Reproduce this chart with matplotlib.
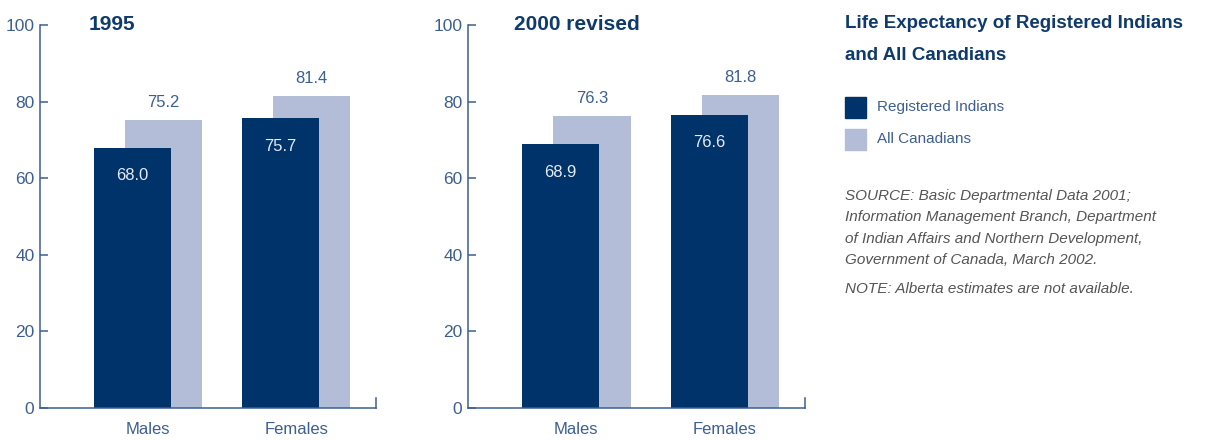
import numpy as np
import matplotlib.pyplot as plt

groups = ['Males', 'Females']
panel_titles = ['1995', '2000 revised']
registered = [[68.0, 75.7], [68.9, 76.6]]
all_canadians = [[75.2, 81.4], [76.3, 81.8]]
yticks = [0, 20, 40, 60, 80, 100]

DARK = '#00336a'
LIGHT = '#b4bdd7'
AXIS = '#3d5f8f'
TITLE = '#0f3a6c'

plt.rcParams['font.family'] = ['Liberation Sans', 'DejaVu Sans']

W, H = 1215, 440
fig = plt.figure(figsize=(W / 100, H / 100), dpi=100)

panels = [(40, 376), (468, 805)]
x = np.arange(len(groups))
off = 0.105
width = 0.52

for i, (x0, x1) in enumerate(panels):
    ax = fig.add_axes([x0 / W, (H - 408) / H, (x1 - x0) / W, (408 - 25) / H])
    ax.bar(x + off, all_canadians[i], width, color=LIGHT, zorder=1)
    ax.bar(x - off, registered[i], width, color=DARK, zorder=2)
    for xi, v in zip(x, all_canadians[i]):
        ax.text(xi + off, v + 4.6, f'{v:.1f}', ha='center', va='center',
                color=AXIS, fontsize=12, zorder=3)
    for xi, v in zip(x, registered[i]):
        ax.text(xi - off, v - 7.3, f'{v:.1f}', ha='center', va='center',
                color='#e6ebf3', fontsize=12, zorder=3)
    ax.set_xlim(-0.73, 1.54)
    ax.set_ylim(0, 100)
    ax.set_yticks(yticks)
    ax.set_xticks(x)
    ax.set_xticklabels(groups)
    ax.tick_params(axis='x', length=0, pad=10, labelsize=12, colors=AXIS)
    ax.tick_params(axis='y', direction='in', length=6, width=1.1, pad=4,
                   labelsize=12.5, colors=AXIS)
    ax.spines['top'].set_visible(False)
    ax.spines['right'].set_bounds(0, 2.6)
    for s in ['left', 'bottom', 'right']:
        ax.spines[s].set_color(AXIS)
        ax.spines[s].set_linewidth(1.1)
    ax.text(0.145 if i == 0 else 0.137, 1.0, panel_titles[i], transform=ax.transAxes,
            ha='left', va='center', fontsize=15, fontweight='bold', color=TITLE)

fig.text(845 / W, 1 - 24 / H, 'Life Expectancy of Registered Indians',
         fontsize=13.5, fontweight='bold', color=TITLE, va='center', ha='left')
fig.text(845 / W, 1 - 55 / H, 'and All Canadians',
         fontsize=13.5, fontweight='bold', color=TITLE, va='center', ha='left')

for y, col, lab in [(107, DARK, 'Registered Indians'), (139, LIGHT, 'All Canadians')]:
    fig.patches.append(plt.Rectangle((845 / W, 1 - (y + 10.5) / H), 21 / W, 21 / H,
                                     transform=fig.transFigure, color=col))
    fig.text(877 / W, 1 - y / H, lab, fontsize=11, color=AXIS, va='center', ha='left')

source = ['SOURCE: Basic Departmental Data 2001;',
          'Information Management Branch, Department',
          'of Indian Affairs and Northern Development,',
          'Government of Canada, March 2002.']
for k, line in enumerate(source):
    fig.text(845 / W, 1 - (196 + k * 21.3) / H, line, fontsize=11, style='italic',
             color='#555555', va='center', ha='left')
fig.text(845 / W, 1 - 289 / H, 'NOTE: Alberta estimates are not available.',
         fontsize=11, style='italic', color='#555555', va='center', ha='left')

fig.savefig('out.png', dpi=100)
